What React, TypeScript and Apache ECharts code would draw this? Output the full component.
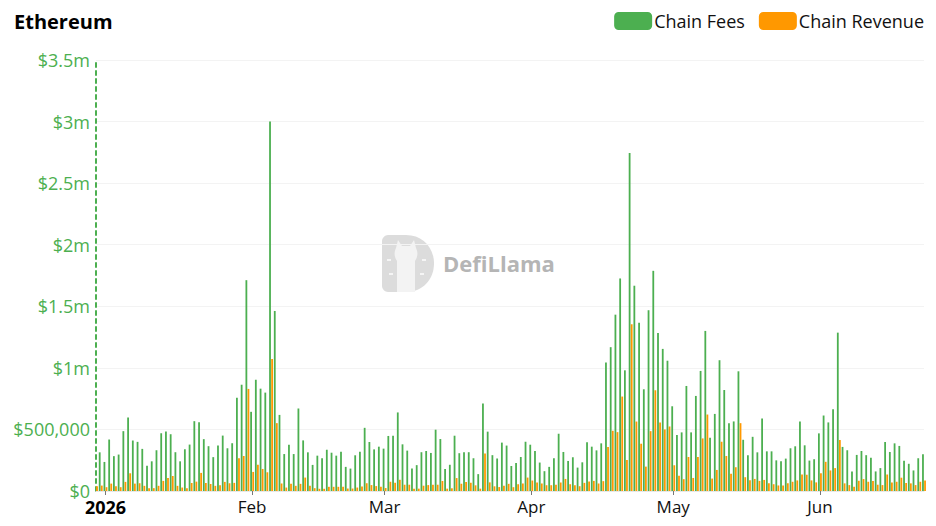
import React, { useEffect, useRef } from "react";
import * as echarts from "echarts";

// First day of data (the bar sitting on the y-axis line) and last day
const START_DATE = "2025-12-30";
const END_DATE = "2026-06-23";

// Daily values, in thousands of USD, Dec 30 2025 -> Jun 23 2026
// (the Dec 30 fee bar is hidden behind the axis in the reference)
const chainFeesK: (number | null)[] = [
  // Dec 30-31
  null, 314,
  // Jan
  236, 418, 283, 296, 486, 597, 410, 399, 342, 206, 241, 331, 469, 483, 461, 315,
  241, 339, 377, 567, 559, 421, 364, 275, 369, 450, 347, 388, 758, 863, 1712,
  // Feb
  643, 904, 831, 799, 3000, 1462, 618, 300, 376, 300, 670, 411, 314, 212, 287, 265,
  335, 311, 287, 319, 196, 182, 290, 319, 513, 398, 338, 360,
  // Mar
  344, 447, 449, 638, 379, 328, 183, 210, 315, 325, 309, 498, 422, 178, 213, 449,
  307, 315, 315, 266, 137, 710, 482, 291, 264, 393, 369, 204, 228, 276, 400,
  // Apr
  376, 325, 231, 161, 196, 265, 465, 317, 244, 274, 190, 233, 395, 360, 330, 387,
  1044, 1168, 1432, 1726, 980, 2744, 1667, 1367, 826, 1468, 1788, 1284, 1154, 1058,
  // May
  688, 454, 476, 853, 476, 772, 975, 1300, 432, 626, 1062, 820, 551, 565, 972, 416,
  290, 440, 314, 589, 322, 322, 249, 241, 263, 347, 363, 565, 371, 247, 258,
  // Jun
  468, 613, 557, 664, 1286, 358, 331, 159, 293, 325, 291, 269, 159, 186, 398, 317,
  387, 366, 245, 221, 167, 266, 299,
];

const chainRevenueK: number[] = [
  // Dec 30-31
  39, 44,
  // Jan
  31, 60, 39, 31, 74, 144, 60, 63, 42, 23, 23, 42, 82, 106, 122, 42,
  28, 23, 65, 76, 147, 65, 57, 42, 47, 74, 63, 66, 265, 284, 829,
  // Feb
  155, 214, 179, 152, 1071, 551, 61, 28, 58, 42, 58, 109, 42, 23, 18, 18,
  34, 34, 34, 34, 20, 20, 28, 36, 63, 48, 40, 35,
  // Mar
  24, 75, 67, 91, 51, 51, 19, 19, 43, 48, 51, 51, 81, 19, 22, 105,
  59, 73, 67, 46, 19, 304, 70, 38, 32, 43, 58, 31, 55, 61, 109,
  // Apr
  85, 69, 61, 47, 47, 50, 69, 98, 55, 47, 39, 66, 77, 82, 61, 80,
  357, 489, 478, 767, 252, 1354, 564, 384, 198, 486, 818, 556, 500, 524,
  // May
  209, 123, 96, 276, 106, 276, 427, 621, 101, 171, 400, 284, 141, 193, 551, 112,
  88, 98, 82, 90, 63, 55, 45, 45, 63, 75, 86, 134, 132, 86, 70,
  // Jun
  145, 237, 167, 186, 414, 62, 48, 35, 83, 97, 75, 81, 51, 48, 134, 70,
  75, 108, 65, 62, 48, 75, 86,
];

const MONTHS = ["Jan", "Feb", "Mar", "Apr", "May", "Jun", "Jul", "Aug", "Sep", "Oct", "Nov", "Dec"];
const Y_MAX = 3500000;
const Y_INTERVAL = 500000;

function buildDates(start: string, end: string): string[] {
  const out: string[] = [];
  const d = new Date(start + "T00:00:00Z");
  const e = new Date(end + "T00:00:00Z");
  while (d.getTime() <= e.getTime()) {
    out.push(d.toISOString().slice(0, 10));
    d.setUTCDate(d.getUTCDate() + 1);
  }
  return out;
}

const GREEN = "#4caf50";
const ORANGE = "#ff9800";
const FONT = "'Open Sans', 'Noto Sans', sans-serif";

echarts.graphic.registerShape(
  "llamaD",
  echarts.graphic.extendPath(
    "M6 0 H24 C41 0 52 13 52 28.5 C52 44 41 57 24 57 H6 C3 57 0 54 0 51 V6 C0 3 3 0 6 0 Z",
    {}
  )
);
echarts.graphic.registerShape(
  "llamaHead",
  echarts.graphic.extendPath(
    "M14 13 L16 5 L20 11 L28 11 L32 5 L34 13 C36 17 36 22 33 26 L33 57 L15 57 L15 26 C12 22 12 17 14 13 Z",
    {}
  )
);

export default function App() {
  const ref = useRef<HTMLDivElement>(null);

  useEffect(() => {
    if (!ref.current) return;
    const chart = echarts.init(ref.current, null, { renderer: "svg" });
    const dates = buildDates(START_DATE, END_DATE);
    const isMonthStart = (_i: number, v: string) => v.slice(8, 10) === "01";

    chart.setOption({
      animation: false,
      backgroundColor: "#ffffff",
      textStyle: { fontFamily: FONT },
      title: {
        text: "Ethereum",
        left: 9,
        top: 6,
        textStyle: { fontFamily: FONT, fontSize: 20, fontWeight: "bold", color: "#000" },
      },
      legend: {
        right: 12,
        top: 12,
        padding: 0,
        itemWidth: 38,
        itemHeight: 18,
        itemGap: 14,
        icon: "roundRect",
        textStyle: { fontFamily: FONT, fontSize: 18, color: "#111", padding: [0, 0, 0, -3] },
        data: ["Chain Fees", "Chain Revenue"],
      },
      grid: { left: 96, right: 12, top: 60, bottom: 35, containLabel: false },
      graphic: [
        {
          type: "group",
          left: 382,
          top: 235,
          z: -10,
          silent: true,
          children: [
            { type: "llamaD", x: 0, y: 0, style: { fill: "#dcdcdc" } },
            { type: "llamaHead", x: 0, y: 0, style: { fill: "#f3f3f3" } },
            { type: "rect", shape: { x: 5, y: 24, width: 4, height: 2 }, style: { fill: "#f5f5f5" } },
            { type: "rect", shape: { x: 40, y: 24, width: 4, height: 2 }, style: { fill: "#f5f5f5" } },
            { type: "rect", shape: { x: 7, y: 38, width: 4, height: 2 }, style: { fill: "#f5f5f5" } },
            { type: "rect", shape: { x: 38, y: 38, width: 4, height: 2 }, style: { fill: "#f5f5f5" } },
            {
              type: "text",
              x: 61,
              y: 17,
              style: {
                text: "DefiLlama",
                fill: "#b5b5b5",
                font: "bold 22px 'Open Sans', sans-serif",
              },
            },
          ],
        },
      ],
      xAxis: {
        type: "category",
        data: dates,
        boundaryGap: false,
        axisLine: { show: true, lineStyle: { color: "#e8e8e8", width: 1 } },
        axisTick: {
          show: true,
          interval: isMonthStart,
          length: 4,
          lineStyle: { color: "#777" },
        },
        axisLabel: {
          interval: isMonthStart,
          margin: 7,
          fontFamily: FONT,
          fontSize: 17,
          lineHeight: 17,
          color: "#111",
          formatter: (v: string) => {
            const m = parseInt(v.slice(5, 7), 10);
            if (m === 1) return "{y|" + v.slice(0, 4) + "}";
            return MONTHS[m - 1];
          },
          rich: {
            y: { fontFamily: FONT, fontSize: 18, lineHeight: 17, fontWeight: "bold", color: "#000" },
          },
        },
        splitLine: { show: false },
      },
      yAxis: {
        type: "value",
        min: 0,
        max: Y_MAX,
        interval: Y_INTERVAL,
        axisLine: { show: true, lineStyle: { color: GREEN, type: [4, 4], width: 2 } },
        axisTick: { show: false },
        axisLabel: {
          margin: 6,
          fontFamily: FONT,
          fontSize: 18,
          lineHeight: 16,
          color: GREEN,
          formatter: (v: number) => {
            if (v === 0) return "$0";
            if (v < 1000000) return "$" + v.toLocaleString("en-US");
            return "$" + v / 1000000 + "m";
          },
        },
        splitLine: { show: true, lineStyle: { color: "#f3f3f3", width: 1 } },
      },
      series: [
        {
          name: "Chain Fees",
          type: "bar",
          data: chainFeesK.map((v) => (v === null ? null : v * 1000)),
          itemStyle: { color: GREEN },
          barWidth: 1.8,
          barGap: "15%",
        },
        {
          name: "Chain Revenue",
          type: "bar",
          data: chainRevenueK.map((v) => v * 1000),
          itemStyle: { color: ORANGE },
          barWidth: 1.8,
          barGap: "15%",
        },
      ],
    });

    return () => chart.dispose();
  }, []);

  return (
    <div
      ref={ref}
      style={{ position: "absolute", left: 0, top: 0, width: 936, height: 526, background: "#fff" }}
    />
  );
}
